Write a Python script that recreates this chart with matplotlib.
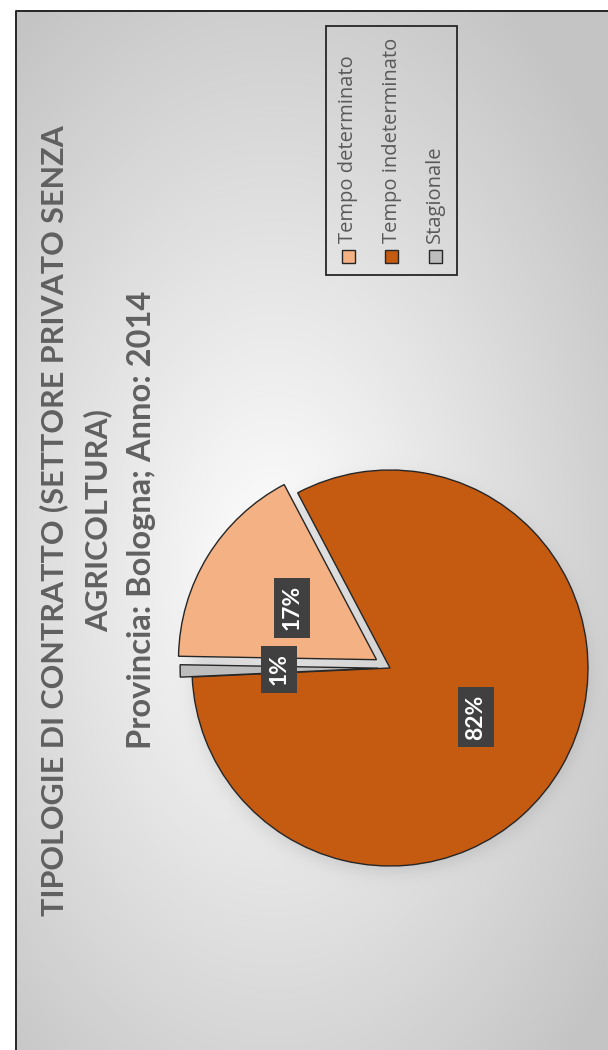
import numpy as np
import matplotlib
matplotlib.use('Agg')
import matplotlib.pyplot as plt
from matplotlib.patches import Rectangle, Shadow

# data
categories = ['Tempo determinato', 'Tempo indeterminato', 'Stagionale']
shares = [17, 82, 1]
colors = ['#F4B183', '#C55A11', '#BDBDBD']
explode = [0.08, 0, 0.06]
title_lines = ['TIPOLOGIE DI CONTRATTO (SETTORE PRIVATO SENZA', 'AGRICOLTURA)']
subtitle = 'Provincia: Bologna; Anno: 2014'

W, H, DPI = 608, 1050, 100
fig = plt.figure(figsize=(W / DPI, H / DPI), dpi=DPI)

# background axes in pixel coordinates (y grows downwards)
bg = fig.add_axes([0, 0, 1, 1])
bg.set_xlim(0, W)
bg.set_ylim(H, 0)
bg.axis('off')

frame_x, frame_y = 16, 11
cx, cy, R = 390, 668, 198   # pie centre / radius in pixels

# radial gradient of the chart area + soft shadow of the pie
yy, xx = np.mgrid[0:H, 0:W] + 0.5
d = np.sqrt(((xx - 275) / 420) ** 2 + ((yy - 570) / 680) ** 2)
val = 1 - 0.23 * np.clip(d, 0, 1)
dist = np.hypot(xx - cx, yy - (cy + 6))
val -= 0.10 * 0.5 * (1 - np.tanh((dist - R) / 10))
val[(xx < frame_x) | (yy < frame_y)] = 1
bg.imshow(np.dstack([val] * 3), extent=(0, W, H, 0), aspect='auto',
          interpolation='bilinear', zorder=0)
bg.plot([frame_x, frame_x, W + 5], [H + 5, frame_y, frame_y],
        color='#262626', lw=1.4, zorder=1)

# titles (chart is turned a quarter turn counter-clockwise)
for x, line in zip([54, 98], title_lines):
    bg.text(x, 521, line, rotation=90, ha='center', va='center',
            fontsize=22, fontweight='bold', color='#606060',
            family=['Lato', 'DejaVu Sans'])
bg.text(142, 520, subtitle, rotation=90, ha='center', va='center',
        fontsize=23.5, fontweight='bold', color='#606060',
        family=['Lato', 'DejaVu Sans'])

# pie
ax = fig.add_axes([(cx - 1.25 * R) / W, 1 - (cy + 1.25 * R) / H,
                   2.5 * R / W, 2.5 * R / H])
ax.patch.set_alpha(0)
wedges, texts, autotexts = ax.pie(
    shares, colors=colors, explode=explode, startangle=179.0,
    counterclock=False, autopct='%.0f%%', pctdistance=0.5,
    wedgeprops={'edgecolor': '#262626', 'linewidth': 1.0},
    textprops={'color': 'white', 'fontsize': 16.5, 'fontweight': 'bold',
               'family': ['Lato', 'DejaVu Sans'], 'rotation': 90})
ax.set_xlim(-1.25, 1.25)
ax.set_ylim(-1.25, 1.25)
ax.axis('off')

for t in autotexts:
    t.set_bbox(dict(boxstyle='square,pad=0.32', fc='#404040', ec='none'))
    t.set_zorder(5)

# gap behind the exploded slice
w0 = wedges[0]
mid = np.deg2rad((w0.theta1 + w0.theta2) / 2)
off = explode[0] * R * 72 / DPI
sh = Shadow(w0, -off * np.cos(mid), -off * np.sin(mid),
            facecolor='#C4C4C4', edgecolor='#262626', lw=1.0, alpha=1)
sh.set_zorder(0.5)
ax.add_patch(sh)

# legend drawn by hand so that it can be turned with the chart
bg.add_patch(Rectangle((326, 26), 131, 249, fill=False, ec='#262626',
                       lw=1.3, zorder=3))
for i, (lab, col) in enumerate(zip(categories, colors)):
    x = 348 + 43.5 * i
    bg.add_patch(Rectangle((x - 6.5, 250), 13, 13, fc=col, ec='#262626',
                           lw=1.0, zorder=3))
    bg.text(x, 243, lab, rotation=90, ha='center', va='bottom',
            fontsize=14.5, color='#595959', family=['Open Sans', 'DejaVu Sans'])

fig.savefig('out.png', dpi=DPI)
